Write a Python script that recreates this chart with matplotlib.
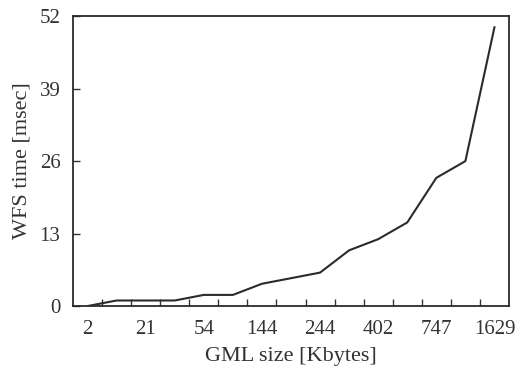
import numpy as np
from matplotlib import pyplot as plt

# WFS response time against GML size
x_labels = ['2', '21', '54', '144', '244', '402', '747', '1629']
wfs_time = [0, 1, 1, 1, 2, 2, 4, 5, 6, 10, 12, 15, 23, 26, 50]

plt.rcParams['font.family'] = ['Liberation Serif', 'DejaVu Serif']

fig = plt.figure(figsize=(5.23, 3.76), dpi=100)
ax = fig.add_axes([0.1396, 0.186, 0.8336, 0.771])

pos = np.arange(len(wfs_time))
ax.plot(pos, wfs_time, color='#2b2b2b', linewidth=1.5)

ax.set_xlim(-0.5, len(wfs_time) - 0.5)
ax.set_ylim(0, 52)

ax.set_xticks(pos[::2])
ax.set_xticklabels(x_labels)
ax.set_xticks(pos[:-1] + 0.5, minor=True)
ax.tick_params(axis='x', which='major', length=0, pad=10, labelsize=15, colors='#333333')
ax.tick_params(axis='x', which='minor', direction='in', length=5, width=1, color='#333333')

ax.set_yticks([0, 13, 26, 39, 52])
ax.tick_params(axis='y', direction='in', length=5, width=1, pad=9, labelsize=15, colors='#333333')

for s in ax.spines.values():
    s.set_linewidth(1.3)
    s.set_color('#2b2b2b')

ax.set_xlabel('GML size [Kbytes]', fontsize=16, color='#333333', labelpad=6)
ax.set_ylabel('WFS time [msec]', fontsize=16, color='#333333', labelpad=6)

plt.savefig('out.png', dpi=100)
